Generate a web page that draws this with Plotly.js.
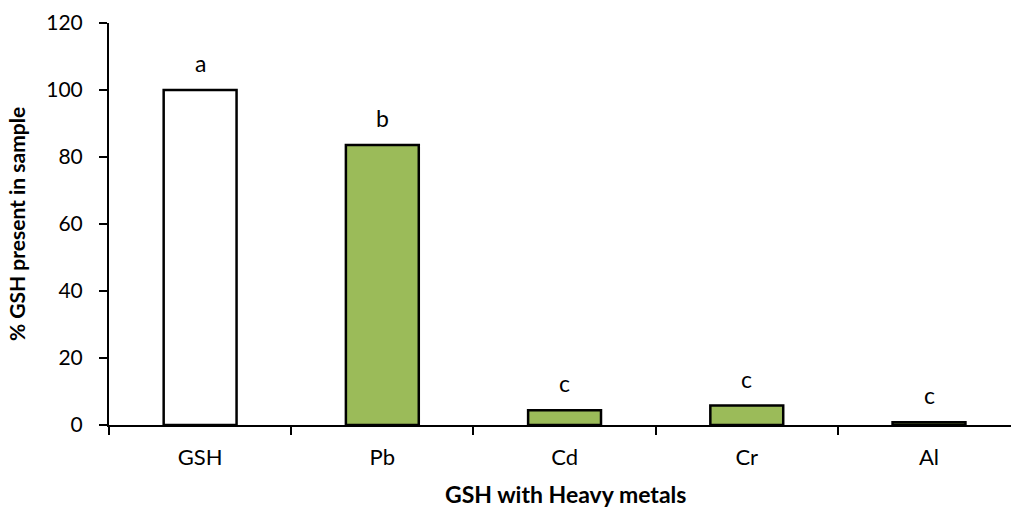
<!DOCTYPE html>
<html><head><meta charset="utf-8">
<script src="https://cdn.plot.ly/plotly-3.0.1.min.js"></script>
<style>body{margin:0;background:#fff}</style>
</head><body>
<div id="chart" style="width:1012px;height:510px"></div>
<script>
const categories = ["GSH", "Pb", "Cd", "Cr", "Al"];
const values = [100, 83.6, 4.4, 5.8, 0.8];
const letters = ["a", "b", "c", "c", "c"];
const barColors = ["#ffffff", "#9bbb59", "#9bbb59", "#9bbb59", "#9bbb59"];
const yTicks = [0, 20, 40, 60, 80, 100, 120];

const font = "Lato, 'Open Sans', sans-serif";
const trace = {
  type: "bar", x: categories, y: values, width: 0.4,
  marker: {color: barColors, line: {color: "#000", width: 2.5}},
  hoverinfo: "x+y"
};
const annotations = categories.map((c, i) => ({
  x: c, y: values[i], text: letters[i], showarrow: false,
  yanchor: "middle", yshift: 27, font: {family: font, size: 23, color: "#000"}
}));
annotations.push({
  xref: "paper", yref: "paper", x: (565 - 109) / 902, y: -(494 - 425) / 402, yanchor: "middle",
  text: "<b>GSH with Heavy metals</b>", showarrow: false, borderpad: 0,
  font: {family: font, size: 23, color: "#000"}
});
const layout = {
  margin: {l: 109, r: 1, t: 23, b: 85},
  paper_bgcolor: "#fff", plot_bgcolor: "#fff",
  showlegend: false, annotations: annotations,
  font: {family: font, color: "#000"},
  xaxis: {
    type: "category", range: [-0.5, 4.45], showgrid: false, zeroline: false,
    showline: true, linecolor: "#000", linewidth: 2,
    ticks: "outside", tickson: "boundaries", ticklen: 8, tickwidth: 2, tickcolor: "#000",
    tickfont: {family: font, size: 22}, ticklabelstandoff: 12
  },
  yaxis: {
    range: [0, 120], tickvals: yTicks, showgrid: false, zeroline: false,
    showline: true, linecolor: "#000", linewidth: 2,
    ticks: "outside", ticklen: 8, tickwidth: 2, tickcolor: "#000",
    tickfont: {family: font, size: 21}, ticklabelstandoff: 12,
    title: {text: "<b>% GSH present in sample</b>", font: {family: font, size: 21}, standoff: 15}
  }
};
Plotly.newPlot("chart", [trace], layout, {displayModeBar: false, staticPlot: true});
</script>
</body></html>
